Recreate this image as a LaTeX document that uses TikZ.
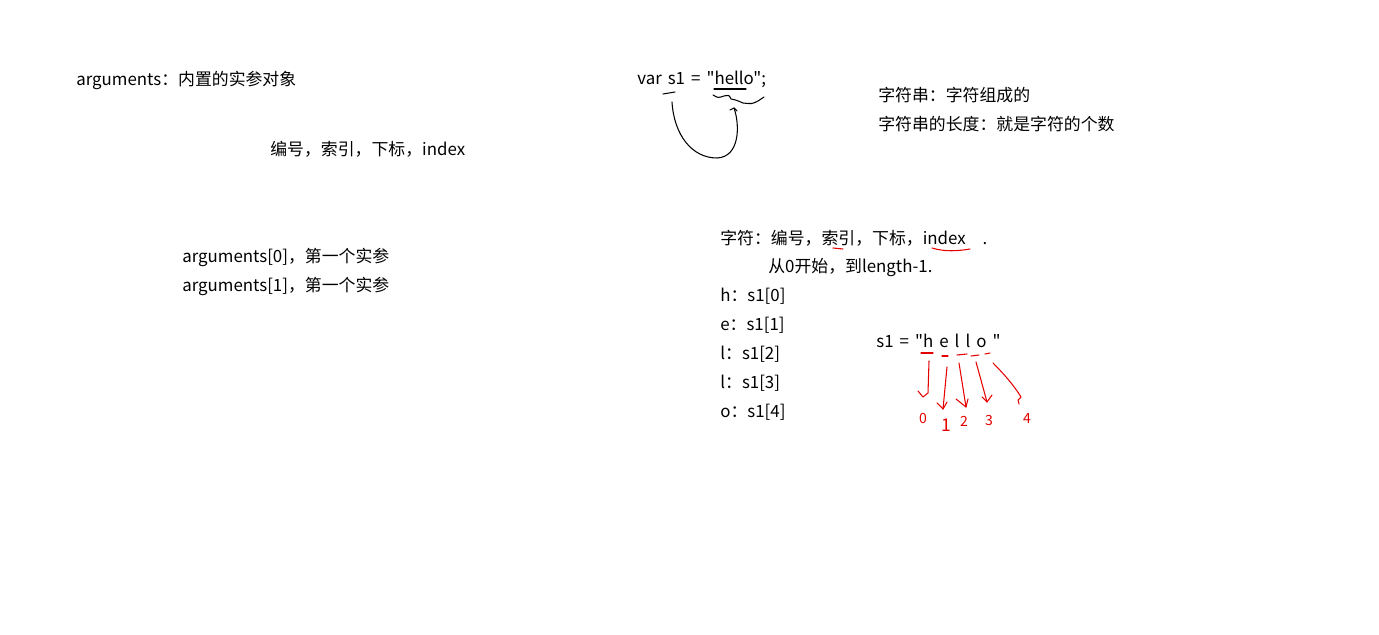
\documentclass[tikz,border=0pt]{standalone}
\usepackage{fontspec}
\newfontfamily\yahei{Noto Sans CJK SC}[WordSpace=1.6]
\usetikzlibrary{positioning}

\begin{document}
\begin{tikzpicture}[
  x=0.02cm, y=-0.02cm,
  font=\yahei\fontsize{9.6pt}{11pt}\selectfont,
  txt/.style={anchor=west, inner sep=0pt},
  ink/.style={line width=0.6pt, line cap=round, line join=round},
  pen/.style={ink, red!90!black},
  digit/.style={inner sep=0pt, text=red!90!black, font=\yahei\fontsize{8pt}{8pt}\selectfont}]
\useasboundingbox[fill=white] (0,0) rectangle (1379,635);
% left column
\node[txt] (argobj) at (76,80) {arguments：内置的实参对象};
\node[txt] (idxnames) at (270,149) {编号，索引，下标，index};
\node[txt] (arg0) at (182,257) {arguments[0]，第一个实参};
\node[txt] (arg1) at (182,286) {arguments[1]，第一个实参};
% var line
\node[txt] (varline) at (637,79) {var s1 = "hello";};
\node[txt] (strdef) at (878,95) {字符串：字符组成的};
\node[txt] (strlen) at (878,124) {字符串的长度：就是字符的个数};
% characters
\node[txt] (chars) at (720,238) {字符：编号，索引，下标，index\quad .};
\node[txt] (range) at (768,268) {从0开始，到length-1.};
\node[txt] (ch0) at (720,296) {h：s1[0]};
\node[txt] (ch1) at (720,325) {e：s1[1]};
\node[txt] (ch2) at (720,354) {l：s1[2]};
\node[txt] (ch3) at (720,383) {l：s1[3]};
\node[txt] (ch4) at (720,412) {o：s1[4]};
\node[txt] (spread) at (876,341) {s1 = "h e l l o "};
% hand strokes on the var line
\coordinate (s1mark) at (670,93);
\coordinate (hellomark) at (734,108);
\draw[ink] (663,94) -- (675,92);
\draw[ink] (714,89) -- (746,89);
\draw[ink] (713,95) .. controls (718,98) .. (724,96) .. controls (729,95) .. (731,99)
  .. controls (736,100) .. (743,103) .. controls (752,104) .. (758,101) -- (764,97);
\draw[ink] (672,102) .. controls (674,135) and (692,158) .. (717,158)
  .. controls (740,157) and (740,125) .. (hellomark);
\draw[ink] (730,110) -- (hellomark) -- (737,111);
% red marks
\draw[pen] (833,248) -- (843,249);
\draw[pen] (932,248) .. controls (945,252) and (958,251) .. (970,249);
\draw[pen] (921,353) -- (933,353);
\draw[pen] (942,356) -- (948,356);
\draw[pen] (957,355) -- (967,354);
\draw[pen] (971,356) -- (979,355);
\draw[pen] (985,354) -- (990,353);
% index arrows
\node[digit] (d0) at (923,418) {0};
\node[digit, font=\yahei\fontsize{10pt}{10pt}\selectfont] (d1) at (946,425) {1};
\node[digit] (d2) at (964,421) {2};
\node[digit] (d3) at (989,420) {3};
\node[digit] (d4) at (1027,418) {4};
\draw[pen] (929,361) -- (928,393) -- (923,397) -- (918,391);
\draw[pen] (947,367) -- (943,409);
\draw[pen] (937,403) -- (943,409) -- (947,402);
\draw[pen] (959,363) -- (966,407);
\draw[pen] (956,399) -- (966,407) -- (968,399);
\draw[pen] (976,362) -- (987,402);
\draw[pen] (982,397) -- (987,402) -- (992,395);
\draw[pen] (993,363) .. controls (1005,375) and (1015,387) .. (1021,397) -- (1018,400) -- (1019,404);
\end{tikzpicture}
\end{document}
